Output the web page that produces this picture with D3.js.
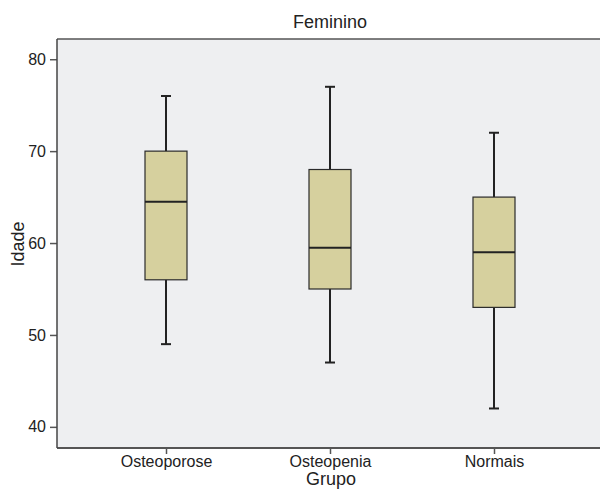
<!DOCTYPE html>
<html>
<head>
<meta charset="utf-8">
<script src="https://cdn.jsdelivr.net/npm/d3@7"></script>
<style>
    body { margin: 0; background: #fff; }
    text { font-family: "Liberation Sans", Arial, sans-serif; fill: #222; }
</style>
</head>
<body>
<div id="chart"></div>
<script>
var GROUPS = ['Osteoporose', 'Osteopenia', 'Normais'];
var MINS = [49, 47, 42];
var Q1S = [56, 55, 53];
var MEDIANS = [64.5, 59.5, 59];
var Q3S = [70, 68, 65];
var MAXS = [76, 77, 72];
var Y_TICKS = [40, 50, 60, 70, 80];

var WIDTH = 600, HEIGHT = 490;
var margin = {top: 39, right: 0, bottom: 42, left: 57};
var inner_w = WIDTH - margin.left - margin.right,
    inner_h = HEIGHT - margin.top - margin.bottom;

var svg = d3.select('#chart').append('svg')
    .attr('width', WIDTH)
    .attr('height', HEIGHT);

var g = svg.append('g').attr('transform', 'translate(' + margin.left + ',' + margin.top + ')');

// x centres ~166, 330, 494
var x = d3.scalePoint().domain(GROUPS).range([109, 437]);
var y = d3.scaleLinear().domain([37.7, 82.2]).range([inner_h, 0]);

g.append('rect')
    .attr('width', inner_w)
    .attr('height', inner_h)
    .attr('fill', '#eeeff1');

var boxes = GROUPS.map(function(name, i){
    return {name: name, min: MINS[i], q1: Q1S[i], med: MEDIANS[i], q3: Q3S[i], max: MAXS[i]};
});

var BOX_W = 42, CAP_W = 10;

var b = g.selectAll('g.box').data(boxes).enter().append('g')
    .attr('class', 'box')
    .attr('transform', function(d){ return 'translate(' + x(d.name) + ',0)'; });

// whiskers
b.append('line')
    .attr('x1', 0).attr('x2', 0)
    .attr('y1', function(d){ return y(d.max); })
    .attr('y2', function(d){ return y(d.q3); })
    .attr('stroke', '#222').attr('stroke-width', 2);
b.append('line')
    .attr('x1', 0).attr('x2', 0)
    .attr('y1', function(d){ return y(d.q1); })
    .attr('y2', function(d){ return y(d.min); })
    .attr('stroke', '#222').attr('stroke-width', 2);
b.selectAll('line.cap')
    .data(function(d){ return [d.min, d.max]; })
    .enter().append('line')
    .attr('class', 'cap')
    .attr('x1', -CAP_W / 2).attr('x2', CAP_W / 2)
    .attr('y1', function(v){ return y(v); })
    .attr('y2', function(v){ return y(v); })
    .attr('stroke', '#222').attr('stroke-width', 2);

b.append('rect')
    .attr('x', -BOX_W / 2)
    .attr('width', BOX_W)
    .attr('y', function(d){ return y(d.q3); })
    .attr('height', function(d){ return y(d.q1) - y(d.q3); })
    .attr('fill', '#d6d09e')
    .attr('stroke', '#2a2a2a').attr('stroke-width', 1.2);

b.append('line')
    .attr('x1', -BOX_W / 2).attr('x2', BOX_W / 2)
    .attr('y1', function(d){ return y(d.med); })
    .attr('y2', function(d){ return y(d.med); })
    .attr('stroke', '#222').attr('stroke-width', 2);

// axes
var y_axis = g.append('g')
    .call(d3.axisLeft(y).tickValues(Y_TICKS).tickSize(7).tickPadding(4));
var x_axis = g.append('g')
    .attr('transform', 'translate(0,' + inner_h + ')')
    .call(d3.axisBottom(x).tickSize(6).tickPadding(1.5));

[y_axis, x_axis].forEach(function(ax){
    ax.select('.domain').remove();
    ax.selectAll('line').attr('stroke', '#555').attr('stroke-width', 1.5);
    ax.selectAll('text').style('font-size', '16px').attr('fill', '#222');
});

// frame: top, left, bottom
g.append('line').attr('x1', 0).attr('x2', inner_w).attr('y1', 0).attr('y2', 0)
    .attr('stroke', '#555').attr('stroke-width', 1.5);
g.append('line').attr('x1', 0).attr('x2', inner_w).attr('y1', inner_h).attr('y2', inner_h)
    .attr('stroke', '#555').attr('stroke-width', 2);
g.append('line').attr('x1', 0).attr('x2', 0).attr('y1', 0).attr('y2', inner_h)
    .attr('stroke', '#444').attr('stroke-width', 1.5);

svg.append('text')
    .attr('x', 330).attr('y', 28)
    .attr('text-anchor', 'middle')
    .style('font-size', '18px')
    .text('Feminino');

svg.append('text')
    .attr('x', 331).attr('y', 485)
    .attr('text-anchor', 'middle')
    .style('font-size', '18px')
    .text('Grupo');

svg.append('text')
    .attr('transform', 'translate(24,' + 244 + ')rotate(-90)')
    .attr('text-anchor', 'middle')
    .style('font-size', '18px')
    .text('Idade');
</script>
</body>
</html>
